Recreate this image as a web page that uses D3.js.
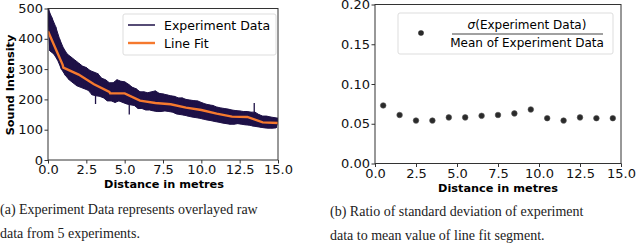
<!DOCTYPE html>
<html>
<head>
<meta charset="utf-8">
<script src="https://cdn.jsdelivr.net/npm/d3@7"></script>
<style>
body { margin: 0; background: #fff; }
text { font-family: "DejaVu Sans", sans-serif; }
.cap { font-family: "Liberation Serif", serif; font-size: 14px; fill: #222; }
</style>
</head>
<body>
<svg id="fig" width="640" height="249"></svg>
<script>
// raw experiment data, read as alternating high / low samples
var rawHigh = [500, 470, 440, 400, 370, 350, 340, 330, 320, 310, 305, 295, 290, 285, 270, 265,
  255, 255, 265, 260, 258, 250, 240, 235, 225, 225, 222, 225, 228, 220, 218, 215,
  212, 210, 205, 205, 200, 198, 196, 195, 190, 185, 182, 180, 175, 172, 170, 168,
  165, 163, 162, 160, 160, 158, 158, 150, 145, 145, 142, 140, 138];
var rawLow = [360, 350, 330, 300, 280, 265, 255, 245, 240, 235, 230, 215, 212, 210, 205, 195,
  195, 190, 195, 190, 185, 182, 180, 170, 170, 165, 165, 162, 160, 160, 162, 160,
  158, 152, 150, 148, 145, 142, 140, 138, 135, 132, 130, 127, 125, 122, 120, 118,
  118, 120, 118, 116, 115, 112, 110, 108, 106, 105, 105, 106];
// isolated outlier spikes: position, band edge, tip
var spikeX = [0.05, 3.1, 5.3, 13.45];
var spikeFrom = [440, 212, 182, 158];
var spikeTo = [505, 185, 150, 188];

var fitX = [0, 0.95, 1, 2, 3, 4, 4.05, 5, 6, 7, 8, 9, 10, 11, 12, 13, 14, 15];
var fitY = [425, 315, 305, 282, 250, 225, 220, 220, 196, 188, 184, 173, 165, 153, 143, 142, 124, 122];

var ratioX = [0.5, 1.5, 2.5, 3.5, 4.5, 5.5, 6.5, 7.5, 8.5, 9.5, 10.5, 11.5, 12.5, 13.5, 14.5];
var ratioY = [0.073, 0.061, 0.054, 0.054, 0.058, 0.058, 0.060, 0.061, 0.063, 0.068, 0.057, 0.054, 0.058, 0.057, 0.057];

var xTicks = [0, 2.5, 5, 7.5, 10, 12.5, 15];
var leftYTicks = [0, 100, 200, 300, 400, 500];
var rightYTicks = [0, 0.05, 0.1, 0.15, 0.2];

var svg = d3.select("#fig");
var navy = "#1e1147", orange = "#f5792e";

function frame(g, x, y, xfmt, yfmt, yt) {
  g.append("g").attr("transform", "translate(0," + y.range()[0] + ")")
    .call(d3.axisBottom(x).tickValues(xTicks).tickFormat(xfmt).tickSize(3.5).tickPadding(1.5));
  g.append("g").attr("transform", "translate(" + x.range()[0] + ",0)")
    .call(d3.axisLeft(y).tickValues(yt).tickFormat(yfmt).tickSize(3.5).tickPadding(1.5));
  g.selectAll(".tick text").attr("font-size", 13).attr("fill", "#111").attr("font-family", "DejaVu Sans");
  g.selectAll(".domain").remove();
  g.selectAll(".tick line").attr("stroke", "#333");
  g.append("rect")
    .attr("x", x.range()[0]).attr("y", y.range()[1])
    .attr("width", x.range()[1] - x.range()[0]).attr("height", y.range()[0] - y.range()[1])
    .attr("fill", "none").attr("stroke", "#333").attr("stroke-width", 1);
}

// left panel
var x1 = d3.scaleLinear().domain([0, 15]).range([48, 278]);
var y1 = d3.scaleLinear().domain([0, 500]).range([160, 8.5]);
var gL = svg.append("g");
gL.append("clipPath").attr("id", "clipL").append("rect")
  .attr("x", 48).attr("y", 8.5).attr("width", 230).attr("height", 151.5);
var plotL = gL.append("g").attr("clip-path", "url(#clipL)");

var rawPts = [];
rawHigh.forEach(function(v, i) {
  rawPts.push([i * 0.25, v]);
  if (i < rawLow.length) rawPts.push([i * 0.25 + 0.125, rawLow[i]]);
});
var hiPts = rawHigh.map(function(v, i) { return [i * 0.25, v]; });
var loPts = rawLow.map(function(v, i) { return [i * 0.25 + 0.125, v]; }).reverse();
var line1 = d3.line().x(function(d) { return x1(d[0]); }).y(function(d) { return y1(d[1]); });

// band body
plotL.append("path").datum(hiPts.concat(loPts))
  .attr("fill", navy).attr("stroke", navy).attr("stroke-width", 1)
  .attr("d", function(d) { return line1(d) + "Z"; });
plotL.append("path").datum(rawPts)
  .attr("fill", "none").attr("stroke", navy).attr("stroke-width", 1.4)
  .attr("d", line1);
plotL.selectAll("line.spike").data(spikeX).enter().append("line")
  .attr("class", "spike")
  .attr("x1", function(d) { return x1(d); }).attr("x2", function(d) { return x1(d); })
  .attr("y1", function(d, i) { return y1(spikeFrom[i]); })
  .attr("y2", function(d, i) { return y1(spikeTo[i]); })
  .attr("stroke", navy).attr("stroke-width", 1.3);
plotL.append("path").datum(d3.zip(fitX, fitY))
  .attr("fill", "none").attr("stroke", orange).attr("stroke-width", 2.4)
  .attr("d", line1);

frame(gL, x1, y1, d3.format(".1f"), d3.format("d"), leftYTicks);

gL.append("text").attr("x", 164).attr("y", 188).attr("text-anchor", "middle")
  .attr("font-size", 11.3).attr("font-weight", "bold").text("Distance in metres");
gL.append("text").attr("transform", "translate(14,85) rotate(-90)").attr("text-anchor", "middle")
  .attr("font-size", 11.3).attr("font-weight", "bold").text("Sound Intensity");

var legL = gL.append("g");
legL.append("rect").attr("x", 123).attr("y", 14).attr("width", 153).attr("height", 41).attr("rx", 2)
  .attr("fill", "#fff").attr("fill-opacity", 0.85).attr("stroke", "#ddd");
legL.append("line").attr("x1", 128).attr("x2", 155).attr("y1", 25).attr("y2", 25)
  .attr("stroke", navy).attr("stroke-width", 1.5);
legL.append("line").attr("x1", 128).attr("x2", 155).attr("y1", 43).attr("y2", 43)
  .attr("stroke", orange).attr("stroke-width", 2.4);
legL.append("text").attr("x", 164).attr("y", 29.5).attr("font-size", 12.5).text("Experiment Data");
legL.append("text").attr("x", 164).attr("y", 47.5).attr("font-size", 12.5).text("Line Fit");

// right panel
var x2 = d3.scaleLinear().domain([0, 15]).range([375, 621]);
var y2 = d3.scaleLinear().domain([0, 0.2]).range([163.5, 4.5]);
var gR = svg.append("g");
frame(gR, x2, y2, d3.format(".1f"), d3.format(".2f"), rightYTicks);

gR.selectAll("circle.pt").data(d3.zip(ratioX, ratioY)).enter().append("circle")
  .attr("class", "pt")
  .attr("cx", function(d) { return x2(d[0]); })
  .attr("cy", function(d) { return y2(d[1]); })
  .attr("r", 2.8).attr("fill", "#2a2a2a").attr("stroke", "#555").attr("stroke-width", 0.6);

gR.append("text").attr("x", 498).attr("y", 192).attr("text-anchor", "middle")
  .attr("font-size", 11.3).attr("font-weight", "bold").text("Distance in metres");

var legR = gR.append("g");
legR.append("rect").attr("x", 398).attr("y", 13).attr("width", 215).attr("height", 41).attr("rx", 2)
  .attr("fill", "#fff").attr("stroke", "#ddd");
legR.append("circle").attr("cx", 421).attr("cy", 33).attr("r", 2.8).attr("fill", "#2a2a2a");
var num = legR.append("text").attr("x", 527).attr("y", 29).attr("text-anchor", "middle").attr("font-size", 12);
num.append("tspan").attr("font-style", "italic").text("σ");
num.append("tspan").text("(Experiment Data)");
legR.append("line").attr("x1", 452).attr("x2", 603).attr("y1", 34).attr("y2", 34)
  .attr("stroke", "#111").attr("stroke-width", 0.8);
legR.append("text").attr("x", 527).attr("y", 47).attr("text-anchor", "middle").attr("font-size", 12)
  .text("Mean of Experiment Data");

// captions
svg.append("text").attr("class", "cap").attr("x", 0).attr("y", 214).text("(a) Experiment Data represents overlayed raw");
svg.append("text").attr("class", "cap").attr("x", 0).attr("y", 238).text("data from 5 experiments.");
svg.append("text").attr("class", "cap").attr("x", 330).attr("y", 216).text("(b) Ratio of standard deviation of experiment");
svg.append("text").attr("class", "cap").attr("x", 330).attr("y", 240).text("data to mean value of line fit segment.");
</script>
</body>
</html>
